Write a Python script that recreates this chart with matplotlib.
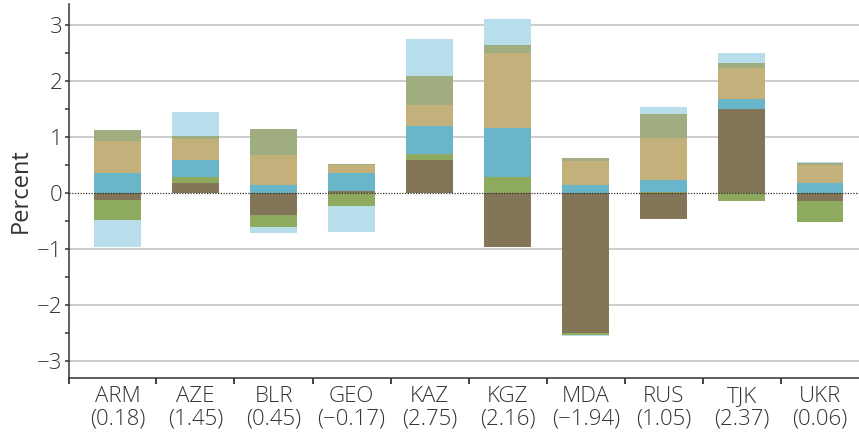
import numpy as np
import matplotlib.pyplot as plt
from matplotlib.ticker import MultipleLocator, FixedLocator

# Economies and their totals (shown in the tick labels)
countries = ["ARM", "AZE", "BLR", "GEO", "KAZ", "KGZ", "MDA", "RUS", "TJK", "UKR"]
totals = ["0.18", "1.45", "0.45", "\u22120.17", "2.75", "2.16", "\u22121.94", "1.05", "2.37", "0.06"]

# Contributions, percentage points
brown = [-0.12, 0.17, -0.40, 0.04, 0.59, -0.96, -2.49, -0.47, 1.50, -0.14]
green = [-0.36, 0.12, -0.20, -0.23, 0.11, 0.29, -0.05, 0.01, -0.14, -0.37]
teal = [0.36, 0.30, 0.15, 0.32, 0.50, 0.86, 0.14, 0.22, 0.18, 0.18]
tan = [0.56, 0.37, 0.53, 0.14, 0.36, 1.35, 0.43, 0.75, 0.55, 0.32]
sage = [0.21, 0.05, 0.46, 0.02, 0.52, 0.14, 0.05, 0.43, 0.09, 0.04]
lightblue = [-0.48, 0.43, -0.11, -0.47, 0.66, 0.46, -0.02, 0.13, 0.18, 0.02]

series = [brown, green, teal, tan, sage, lightblue]
colors = ["#837557", "#8daa5e", "#69b6cb", "#c4b07a", "#9fad80", "#b8deec"]

plt.rcParams["font.family"] = ["Open Sans", "DejaVu Sans"]
plt.rcParams["font.weight"] = "light"

fig = plt.figure(figsize=(8.59, 4.41), dpi=100)
ax = fig.add_axes([0.0803, 0.143, 0.9197, 0.848])

x = np.arange(len(countries))
pos_base = np.zeros(len(countries))
neg_base = np.zeros(len(countries))
for vals, c in zip(series, colors):
    v = np.array(vals)
    base = np.where(v >= 0, pos_base, neg_base)
    ax.bar(x, v, width=0.6, bottom=base, color=c, zorder=3, linewidth=0)
    pos_base = np.where(v >= 0, pos_base + v, pos_base)
    neg_base = np.where(v < 0, neg_base + v, neg_base)

ax.set_xlim(-0.62, 9.5)
ax.set_ylim(-3.3, 3.37)

# horizontal gridlines at integers, dotted zero line
for yv in [-3, -2, -1, 1, 2, 3]:
    ax.axhline(yv, color="#c8c8c8", lw=1.3, zorder=1)
ax.axhline(0, color="#333333", lw=0.9, ls=(0, (1, 1.2)), zorder=4)

ax.set_yticks([-3, -2, -1, 0, 1, 2, 3])
ax.set_yticklabels(["\u22123", "\u22122", "\u22121", "0", "1", "2", "3"])
ax.yaxis.set_minor_locator(MultipleLocator(0.5))
ax.tick_params(axis="y", which="major", length=3, width=1.1, color="#333333",
               labelsize=16, labelcolor="#333333", pad=1.5)
ax.tick_params(axis="y", which="minor", length=3, width=1.1, color="#333333")

ax.set_xticks(x)
ax.set_xticklabels([f"{c}\n({t})" for c, t in zip(countries, totals)])
ax.xaxis.set_minor_locator(FixedLocator(np.r_[-0.62, np.arange(0.5, 9, 1)]))
ax.tick_params(axis="x", which="major", length=0, labelsize=16,
               labelcolor="#333333", pad=6)
ax.tick_params(axis="x", which="minor", length=4.3, width=1.3, color="#333333")
for lbl in ax.get_xticklabels():
    lbl.set_linespacing(1.05)

ax.set_ylabel("Percent", fontsize=17, color="#333333")
ax.yaxis.set_label_coords(-0.046, 0.5)

for side in ["top", "right"]:
    ax.spines[side].set_visible(False)
for side in ["left", "bottom"]:
    ax.spines[side].set_color("#333333")
    ax.spines[side].set_linewidth(1.1)

fig.savefig("out.png", dpi=100)
